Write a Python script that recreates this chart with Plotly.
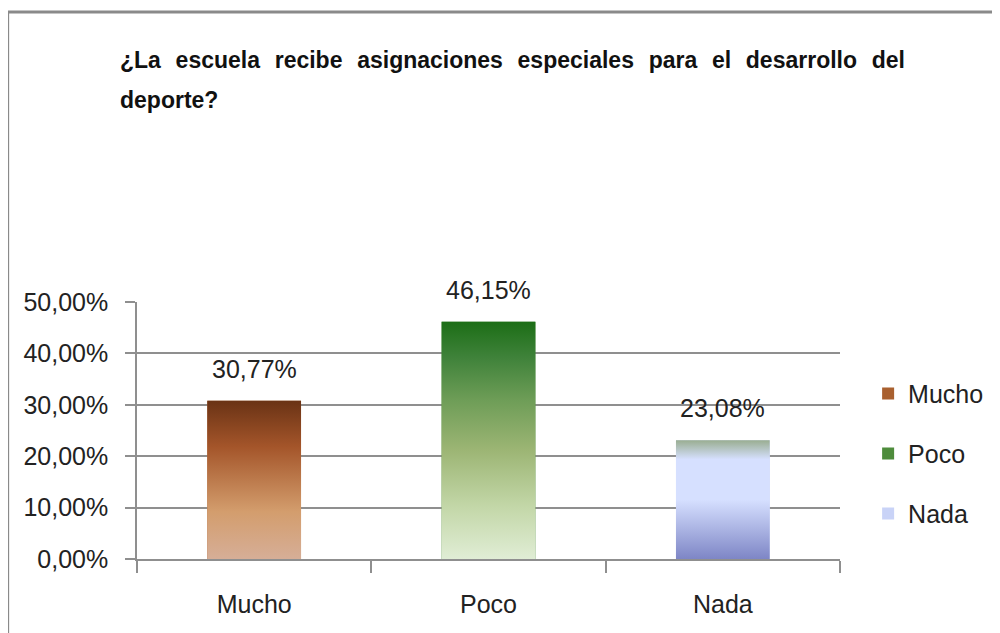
import plotly.graph_objects as go

# datos de la encuesta
categorias = ['Mucho', 'Poco', 'Nada']
porcentajes = [0.3077, 0.4615, 0.2308]
titulo_l1 = '¿La escuela recibe asignaciones especiales para el desarrollo del'
titulo_l2 = 'deporte?'

colores = ['#A9602F', '#4E8C3C', '#C9D3F7']
degradados = [
    [[0, '#D6AE97'], [0.3, '#D39D6D'], [0.5, '#BC7A4C'], [0.71, '#A4552A'], [1, '#6A3315']],
    [[0, '#E0EDD5'], [0.22, '#C3D7A8'], [0.46, '#9CB574'], [0.67, '#6E9D57'], [0.85, '#3F823A'], [1, '#1C6E16']],
    [[0, '#7E86C6'], [0.5, '#D6E0FF'], [0.84, '#D6E0FF'], [1, '#9AAE92']],
]
ancho = 0.4
fuente = 'Liberation Sans, Arial, sans-serif'
gris = '#8f8f8f'

fig = go.Figure()
for i, (cat, val) in enumerate(zip(categorias, porcentajes)):
    fig.add_trace(go.Bar(x=[i], y=[val], width=ancho, name=cat, legendgroup=cat,
                         marker=dict(color=colores[i], line=dict(width=0)),
                         hovertemplate=cat + ': %{y:.2%}<extra></extra>'))
    # capa con degradado encima de la barra
    fig.add_trace(go.Scatter(x=[i - ancho / 2, i + ancho / 2, i + ancho / 2, i - ancho / 2, i - ancho / 2],
                             y=[0, 0, val, val, 0], mode='lines', line=dict(width=0),
                             fill='toself', fillgradient=dict(type='vertical', colorscale=degradados[i]),
                             showlegend=False, hoverinfo='skip'))
    fig.add_annotation(x=i, y=val, text=f'{val * 100:.2f}'.replace('.', ',') + '%',
                       showarrow=False, yanchor='bottom', yshift=16,
                       font=dict(family=fuente, size=25, color='#222'))

# titulo "justificado" con espacios extra
espacio = ' \u00a0\u200a'
fig.add_annotation(xref='paper', yref='paper', x=-0.027, y=1.942, xanchor='left', yanchor='middle',
                   text='<b>' + espacio.join(titulo_l1.split(' ')) + '</b>', showarrow=False,
                   font=dict(family=fuente, size=23, color='#111'))
fig.add_annotation(xref='paper', yref='paper', x=-0.027, y=1.786, xanchor='left', yanchor='middle',
                   text='<b>' + titulo_l2 + '</b>', showarrow=False,
                   font=dict(family=fuente, size=23, color='#111'))

# marco del grafico
fig.add_shape(type='line', xref='paper', yref='paper', x0=-0.186, x1=1.25, y0=2.128, y1=2.128,
              line=dict(color='#8a8a8a', width=3))
fig.add_shape(type='line', xref='paper', yref='paper', x0=-0.184, x1=-0.184, y0=2.128, y1=-0.35,
              line=dict(color='#8a8a8a', width=3))

fig.update_layout(
    width=1000, height=633,
    margin=dict(l=129, r=168, t=294, b=82),
    paper_bgcolor='white', plot_bgcolor='white',
    barmode='overlay', separators=',.',
    font=dict(family=fuente, size=25, color='#222'),
    legend=dict(x=1.04, xanchor='left', y=0.41, yanchor='middle', tracegroupgap=24.5,
                font=dict(family=fuente, size=25, color='#222')),
    xaxis=dict(range=[-0.5, 2.5], tickvals=[0, 1, 2], ticktext=categorias, ticks='',
               showgrid=False, zeroline=False, showline=True, linecolor=gris, linewidth=1.5,
               ticklabelstandoff=22,
               minor=dict(tickvals=[-0.5, 0.5, 1.5, 2.5], ticks='outside', ticklen=12,
                          tickcolor=gris, tickwidth=1.5, showgrid=False)),
    yaxis=dict(range=[0, 0.5], dtick=0.1, tickformat='.2%', showgrid=True, gridcolor=gris,
               gridwidth=1.5, zeroline=False, showline=True, linecolor=gris, linewidth=1.5,
               ticks='outside', ticklen=10, tickcolor=gris, tickwidth=1.5, ticklabelstandoff=12),
)

fig.write_html('out.html')
